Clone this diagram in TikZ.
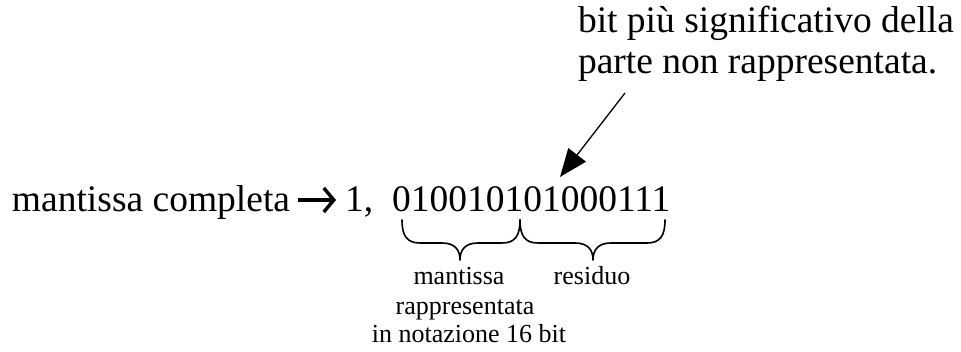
\documentclass[tikz,border=0pt]{standalone}
\usepackage{fontspec}
\setmainfont{Liberation Serif}
\usetikzlibrary{arrows.meta}
\tikzset{
  big/.style={font=\fontsize{37.5}{41}\selectfont, inner sep=0pt, outer sep=0pt},
  small/.style={font=\fontsize{26}{30}\selectfont, inner sep=0pt, outer sep=0pt},
  bracestroke/.style={line width=1.6pt, line cap=round, line join=round},
}
\begin{document}
\begin{tikzpicture}[x=1pt,y=-1pt]
\useasboundingbox (0,0) rectangle (961,352);
% top label
\node[big, anchor=base west] (l1) at (578,33) {bit più significativo della};
\node[big, anchor=base west] (l2) at (578,74) {parte non rappresentata.};
% main line
\node[big, anchor=base west] (mc) at (12,212) {mantissa completa};
\node[big, anchor=base west] (one) at (345,212) {1,};
\node[big, anchor=base west] (bits) at (392,212) {010010101000111};
\coordinate (ar1) at (298,200);
\coordinate (ar2) at (336,200);
\draw[line width=3.4pt, -{Straight Barb[length=10pt,width=24pt,line width=3.4pt]}] (ar1) -- (ar2);
% pointer arrow
\coordinate (p1) at (625,93);
\coordinate (p2) at (560,177);
\draw[line width=1.3pt, -{Triangle[length=28pt,width=22pt]}] (p1) -- (p2);
% braces
\draw[bracestroke] (402,220) .. controls (402,236) and (407,243) .. (420,243)
  -- (442,243) .. controls (455,243) and (460,250) .. (460,260)
  .. controls (460,250) and (465,243) .. (478,243)
  -- (502,243) .. controls (515,243) and (520,236) .. (520,220);
\draw[bracestroke] (520,220) .. controls (520,236) and (525,243) .. (538,243)
  -- (575,243) .. controls (588,243) and (593,250) .. (593,260)
  .. controls (593,250) and (598,243) .. (611,243)
  -- (647,243) .. controls (660,243) and (665,236) .. (665,220);
% labels under braces
\node[small, anchor=base] (m1) at (459,285) {mantissa};
\node[small, anchor=base] (m2) at (465,315) {rappresentata};
\node[small, anchor=base] (m3) at (469,343) {in notazione 16 bit};
\node[small, anchor=base] (res) at (592,285) {residuo};
\end{tikzpicture}
\end{document}
